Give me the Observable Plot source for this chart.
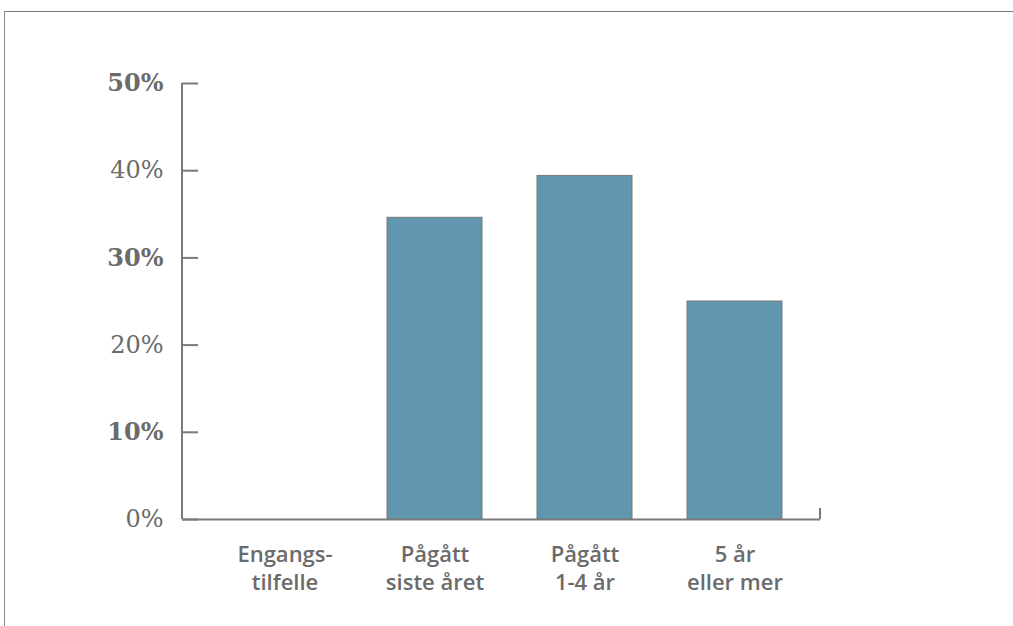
<!DOCTYPE html>
<html>
<head>
<meta charset="utf-8">
<script src="https://cdn.jsdelivr.net/npm/d3@7"></script>
<script src="https://cdn.jsdelivr.net/npm/@observablehq/plot@0.6"></script>
<style>
  html, body { margin: 0; padding: 0; background: #fff; }
  #wrap { position: relative; width: 1013px; height: 626px; overflow: hidden; }
  #box { position: absolute; left: 4px; top: 11px; right: -2px; bottom: -2px;
         border-top: 1.5px solid #7a7a7a; border-left: 1.5px solid #8a8a8a; }
  #chart { position: absolute; left: 0; top: 0; }
</style>
</head>
<body>
<div id="wrap"><div id="box"></div><div id="chart"></div></div>
<script>
const categories = ["Engangs-\ntilfelle", "Pågått\nsiste året", "Pågått\n1-4 år", "5 år\neller mer"];
const values = [0, 34.6, 39.4, 25.0];
const boldTicks = [10, 30, 50];
const plainTicks = [0, 20, 40];

const data = categories.map((c, i) => ({cat: c, v: values[i]}));
const axisColor = "#7a7a7a";
const textColor = "#6b6b6b";

const edgeLines = (index, scales, values, dims) => {
  const x = dims.width - dims.marginRight;
  const y = dims.height - dims.marginBottom;
  const g = d3.create("svg:g");
  g.append("line").attr("x1", x).attr("x2", x).attr("y1", y).attr("y2", y - 11)
    .attr("stroke", axisColor).attr("stroke-width", 2);
  g.append("line").attr("x1", dims.marginLeft).attr("x2", dims.marginLeft)
    .attr("y1", dims.marginTop).attr("y2", y)
    .attr("stroke", axisColor).attr("stroke-width", 2);
  return g.node();
};

const chart = Plot.plot({
  width: 1013,
  height: 626,
  marginLeft: 182,
  marginRight: 193,
  marginTop: 83,
  marginBottom: 107,
  style: {background: "transparent"},
  x: {domain: categories, range: [235.5, 782.5], paddingInner: 0.37, paddingOuter: 0},
  y: {domain: [0, 50]},
  marks: [
    Plot.barY(data, {x: "cat", y: "v", fill: "#6096ae", stroke: "#787878", strokeWidth: 1}),
    Plot.ruleY([0], {stroke: axisColor, strokeWidth: 2}),
    edgeLines,
    Plot.axisY({ticks: [0,10,20,30,40,50], tickSize: -16, text: null, label: null, stroke: axisColor, strokeWidth: 2}),
    Plot.axisY({ticks: boldTicks, tickSize: 0, tickPadding: 19, tickFormat: d => d + "%",
      fontFamily: "'DejaVu Serif', serif", fontSize: 24, fontWeight: "bold", fill: textColor, label: null}),
    Plot.axisY({ticks: plainTicks, tickSize: 0, tickPadding: 19, tickFormat: d => d + "%",
      fontFamily: "'DejaVu Serif', serif", fontSize: 24, fill: textColor, label: null}),
    Plot.axisX({tickSize: 0, tickPadding: 23, fontFamily: "'Open Sans', sans-serif", fontSize: 22,
      fontWeight: 600, fill: textColor, lineHeight: 1.25, label: null})
  ]
});
document.getElementById("chart").appendChild(chart);
</script>
</body>
</html>
